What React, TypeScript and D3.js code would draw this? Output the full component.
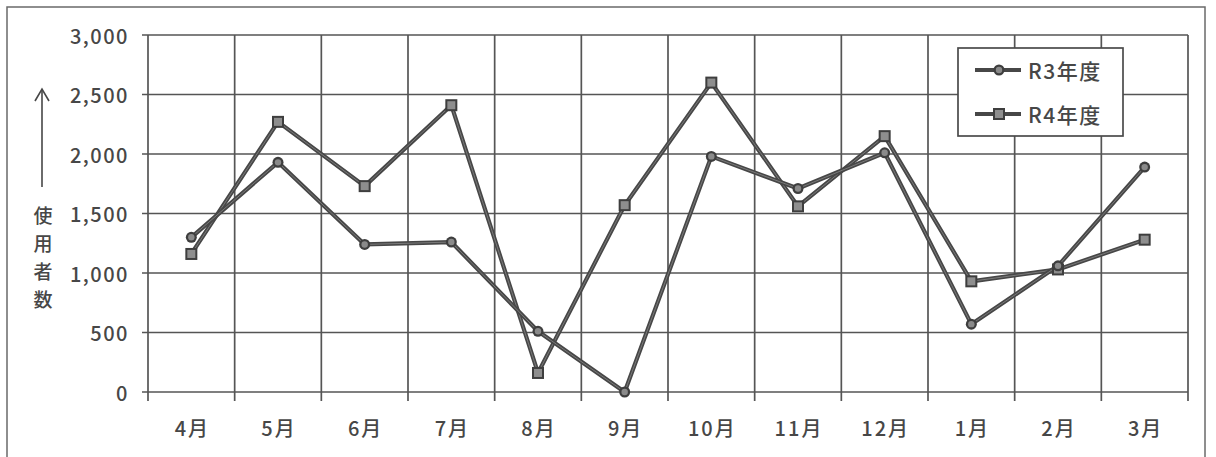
import React from "react";
import * as d3 from "d3";

const months = ["4月", "5月", "6月", "7月", "8月", "9月", "10月", "11月", "12月", "1月", "2月", "3月"];
const r3Values = [1300, 1930, 1240, 1260, 510, 0, 1980, 1710, 2010, 570, 1060, 1890];
const r4Values = [1160, 2270, 1730, 2410, 160, 1570, 2600, 1560, 2150, 930, 1030, 1280];
const yTicks = [0, 500, 1000, 1500, 2000, 2500, 3000];
const seriesNames = ["R3年度", "R4年度"];
const axisTitleChars = ["使", "用", "者", "数"];

const W = 1216;
const H = 457;
const plot = { left: 148, right: 1188, top: 35, bottom: 392 };
const FONT = "'Noto Sans CJK JP', 'Noto Sans', sans-serif";
const TEXT = "#474747";
const GRID = "#555555";
const LINE = "#474747";

export default function App() {
  const x = d3.scaleBand<string>().domain(months).range([plot.left, plot.right]).padding(0);
  const y = d3.scaleLinear().domain([0, 3000]).range([plot.bottom, plot.top]);
  const cx = (m: string) => (x(m) as number) + x.bandwidth() / 2;
  const line = d3
    .line<number>()
    .x((_, i) => cx(months[i]))
    .y((v) => y(v));

  const boundaries = months.map((m) => x(m) as number).concat([plot.right]);

  const circleMarker = (px: number, py: number, key: string) => (
    <g key={key}>
      <circle cx={px} cy={py} r={5.5} fill="#3e3e3e" />
      <circle cx={px} cy={py} r={3.2} fill="#8a8a8a" />
    </g>
  );
  const squareMarker = (px: number, py: number, key: string) => (
    <g key={key}>
      <rect x={px - 6} y={py - 6} width={12} height={12} fill="#3e3e3e" />
      <rect x={px - 4} y={py - 4} width={8} height={8} fill="#8e8e8e" />
    </g>
  );

  const legendX = 958;
  const legendY = 48;
  const legendW = 165;
  const legendH = 88;

  return (
    <svg
      width={W}
      height={H}
      style={{ position: "absolute", left: 0, top: 0, background: "#fff" }}
      fontFamily={FONT}
    >
      <rect x={0} y={0} width={W} height={H} fill="#fff" />
      {/* outer frame */}
      <rect x={7} y={7} width={1198} height={470} fill="none" stroke="#6a6a6a" strokeWidth={1.5} />

      {/* horizontal grid */}
      {yTicks.map((t) => (
        <line key={"h" + t} x1={plot.left - 6} x2={plot.right} y1={y(t)} y2={y(t)} stroke={GRID} strokeWidth={1.7} />
      ))}
      {/* vertical grid */}
      {boundaries.map((b, i) => (
        <line key={"v" + i} x1={b} x2={b} y1={plot.top} y2={plot.bottom + 9} stroke={GRID} strokeWidth={1.7} />
      ))}

      {/* y tick labels */}
      {yTicks.map((t) => (
        <text
          key={"yl" + t}
          x={129}
          y={y(t)}
          textAnchor="end"
          dominantBaseline="central"
          fontSize={20}
          fontWeight={500}
          fill={TEXT}
          letterSpacing={1.5}
        >
          {d3.format(",")(t)}
        </text>
      ))}
      {/* x labels */}
      {months.map((m) => (
        <text
          key={"xl" + m}
          x={cx(m) + 1}
          y={427}
          textAnchor="middle"
          dominantBaseline="central"
          fontSize={20}
          fontWeight={500}
          fill={TEXT}
          letterSpacing={2}
        >
          {m}
        </text>
      ))}

      {/* y axis title */}
      <line x1={42} x2={42} y1={89} y2={187} stroke={TEXT} strokeWidth={1.6} />
      <polyline points="35,101 42,89 49,101" fill="none" stroke={TEXT} strokeWidth={1.6} />
      {axisTitleChars.map((c, i) => (
        <text
          key={"t" + i}
          x={43}
          y={214 + i * 28}
          textAnchor="middle"
          dominantBaseline="central"
          fontSize={19}
          fontWeight={500}
          fill={TEXT}
        >
          {c}
        </text>
      ))}

      {/* series lines */}
      <path d={line(r4Values) || ""} fill="none" stroke={LINE} strokeWidth={4.2} strokeLinejoin="round" />
      <path d={line(r4Values) || ""} fill="none" stroke="#7a7a7a" strokeWidth={1} strokeLinejoin="round" />
      <path d={line(r3Values) || ""} fill="none" stroke={LINE} strokeWidth={4.2} strokeLinejoin="round" />
      <path d={line(r3Values) || ""} fill="none" stroke="#7a7a7a" strokeWidth={1} strokeLinejoin="round" />
      {r4Values.map((v, i) => squareMarker(cx(months[i]), y(v), "s" + i))}
      {r3Values.map((v, i) => circleMarker(cx(months[i]), y(v), "c" + i))}

      {/* legend */}
      <rect x={legendX} y={legendY} width={legendW} height={legendH} fill="#fff" stroke="#4a4a4a" strokeWidth={1.7} />
      {seriesNames.map((name, i) => {
        const ly = legendY + 22 + i * 44;
        return (
          <g key={"lg" + i}>
            <line x1={legendX + 17} x2={legendX + 63} y1={ly} y2={ly} stroke={LINE} strokeWidth={4} />
            {i === 0 ? circleMarker(legendX + 41, ly, "lc") : squareMarker(legendX + 41, ly, "ls")}
            <text
              x={legendX + 70}
              y={ly}
              dominantBaseline="central"
              fontSize={21}
              fontWeight={500}
              fill={TEXT}
              letterSpacing={1.5}
            >
              {name}
            </text>
          </g>
        );
      })}
    </svg>
  );
}
